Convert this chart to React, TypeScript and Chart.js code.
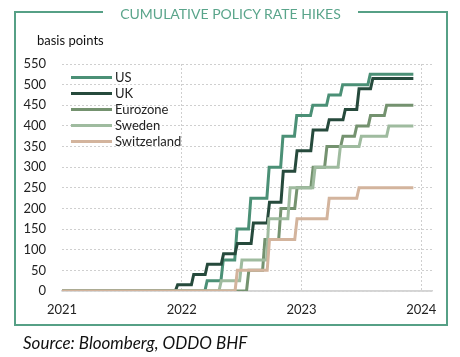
import React, { useEffect, useRef } from "react";
import { Chart, registerables } from "chart.js";

Chart.register(...registerables);

const seriesNames = ["US", "UK", "Eurozone", "Sweden", "Switzerland"];
const seriesColors = ["#4b9076", "#264a3c", "#74926f", "#9fbb9f", "#d3b49d"];

const startDate = "2021-01-01";
const endDate = "2023-12-08";

const usDates = ["2022-03-16", "2022-05-04", "2022-06-15", "2022-07-27", "2022-09-21", "2022-11-02", "2022-12-14", "2023-02-01", "2023-03-22", "2023-05-03", "2023-07-26"];
const usLevels = [25, 75, 150, 225, 300, 375, 425, 450, 475, 500, 525];

const ukDates = ["2021-12-16", "2022-02-03", "2022-03-17", "2022-05-05", "2022-06-16", "2022-08-04", "2022-09-22", "2022-11-03", "2022-12-15", "2023-02-02", "2023-03-23", "2023-05-11", "2023-06-22", "2023-08-03"];
const ukLevels = [15, 40, 65, 90, 115, 165, 215, 290, 340, 390, 415, 440, 490, 515];

const ezDates = ["2022-07-21", "2022-09-08", "2022-10-27", "2022-12-15", "2023-02-02", "2023-03-16", "2023-05-04", "2023-06-15", "2023-07-27", "2023-09-14"];
const ezLevels = [50, 125, 200, 250, 300, 350, 375, 400, 425, 450];

const seDates = ["2022-04-28", "2022-06-30", "2022-09-20", "2022-11-24", "2023-02-08", "2023-04-26", "2023-06-29", "2023-09-21"];
const seLevels = [25, 75, 175, 250, 300, 350, 375, 400];

const chDates = ["2022-06-16", "2022-09-22", "2022-12-15", "2023-03-23", "2023-06-22"];
const chLevels = [50, 125, 175, 225, 250];

const xTicks = [2021, 2022, 2023, 2024];
const xMin = 2021;
const xMax = 2024.09;
const yMin = 0;
const yMax = 550;
const yStep = 50;

function toYear(s: string): number {
  const d = new Date(s + "T00:00:00Z");
  const y = d.getUTCFullYear();
  const a = Date.UTC(y, 0, 1);
  const b = Date.UTC(y + 1, 0, 1);
  return y + (d.getTime() - a) / (b - a);
}

function buildSeries(dates: string[], levels: number[]) {
  const half = 3.5 / 365;
  const pts: { x: number; y: number }[] = [{ x: toYear(startDate), y: 0 }];
  let prev = 0;
  dates.forEach((ds, i) => {
    const x = toYear(ds);
    pts.push({ x: x - half, y: prev });
    pts.push({ x: x + half, y: levels[i] });
    prev = levels[i];
  });
  pts.push({ x: toYear(endDate), y: prev });
  return pts;
}

const allDates = [usDates, ukDates, ezDates, seDates, chDates];
const allLevels = [usLevels, ukLevels, ezLevels, seLevels, chLevels];

const FONT = "Lato, 'Open Sans', sans-serif";

export default function App() {
  const ref = useRef<HTMLCanvasElement | null>(null);

  useEffect(() => {
    if (!ref.current) return;
    const datasets = seriesNames.map((name, i) => ({
      label: name,
      data: buildSeries(allDates[i], allLevels[i]),
      borderColor: seriesColors[i],
      backgroundColor: seriesColors[i],
      borderWidth: 3,
      pointRadius: 0,
      tension: 0,
      fill: false,
      order: seriesNames.length - i,
    }));
    const chart = new Chart(ref.current, {
      type: "line",
      data: { datasets },
      options: {
        animation: false,
        responsive: false,
        devicePixelRatio: 1,
        layout: { padding: { left: 0, right: 28, top: 64, bottom: 36 } },
        plugins: {
          legend: { display: false },
          tooltip: { enabled: false },
          title: { display: false },
        },
        scales: {
          x: {
            type: "linear",
            min: xMin,
            max: xMax,
            afterBuildTicks: (scale: any) => {
              scale.ticks = xTicks.map((v) => ({ value: v }));
            },
            afterFit: (scale: any) => {
              scale.height = 30;
            },
            ticks: {
              padding: 11,
              color: "#222",
              font: { family: FONT, size: 13 },
              callback: (v: any) => String(v),
              maxRotation: 0,
              autoSkip: false,
            },
            grid: {
              drawTicks: false,
              color: (ctx: any) => (ctx.tick && ctx.tick.value === 2021 ? "rgba(0,0,0,0)" : "#cfcfcf"),
              lineWidth: 1,
            },
            border: { display: true, color: "#d4d4d4", width: 1.5, dash: [2, 2] },
          },
          y: {
            min: yMin,
            max: yMax,
            afterFit: (scale: any) => {
              scale.width = 62;
            },
            ticks: {
              stepSize: yStep,
              padding: 16,
              color: "#222",
              font: { family: FONT, size: 13 },
            },
            grid: {
              drawTicks: false,
              color: "#cfcfcf",
              lineWidth: 1,
            },
            border: { display: false, dash: [2, 2] },
          },
        },
      },
      plugins: [
        {
          id: "baseline",
          afterDatasetsDraw: () => {},
          beforeDatasetsDraw: (c: any) => {
            const ctx = c.ctx;
            const xs = c.scales.x;
            const ys = c.scales.y;
            const y0 = ys.getPixelForValue(0);
            ctx.save();
            ctx.strokeStyle = "#d4d4d4";
            ctx.lineWidth = 1.5;
            ctx.setLineDash([]);
            ctx.beginPath();
            ctx.moveTo(xs.left, y0);
            ctx.lineTo(xs.right, y0);
            ctx.stroke();
            ctx.restore();
          },
        },
      ],
    } as any);
    return () => chart.destroy();
  }, []);

  const legendTop = 77;
  return (
    <div style={{ position: "fixed", left: 0, top: 0, width: 460, height: 357, background: "#fff", fontFamily: FONT }}>
      <canvas ref={ref} width={460} height={357} style={{ position: "absolute", left: 0, top: 0, width: 460, height: 357 }} />
      <div
        style={{
          position: "absolute",
          left: 14,
          top: 11,
          width: 430,
          height: 311,
          border: "2.5px solid #56a086",
          pointerEvents: "none",
        }}
      />
      <div
        style={{
          position: "absolute",
          left: 103,
          width: 255,
          top: 4,
          height: 20,
          background: "#fff",
          color: "#5aa58b",
          fontSize: 14,
          lineHeight: "20px",
          textAlign: "center",
          whiteSpace: "nowrap",
        }}
      >
        CUMULATIVE POLICY RATE HIKES
      </div>
      <div style={{ position: "absolute", left: 37, top: 31, fontSize: 13, lineHeight: "18px", color: "#111" }}>basis points</div>
      {seriesNames.map((name, i) => (
        <div key={name} style={{ position: "absolute", left: 71, top: legendTop + i * 16 - 8, height: 16, display: "flex", alignItems: "center" }}>
          <div style={{ width: 41, height: 3, background: seriesColors[i], marginRight: 3 }} />
          <span style={{ fontSize: 13, lineHeight: "16px", color: "#222" }}>{name}</span>
        </div>
      ))}
      <div style={{ position: "absolute", left: 23, top: 331, fontSize: 17, lineHeight: "24px", fontStyle: "italic", color: "#111", whiteSpace: "nowrap" }}>
        Source: Bloomberg, ODDO BHF
      </div>
    </div>
  );
}
